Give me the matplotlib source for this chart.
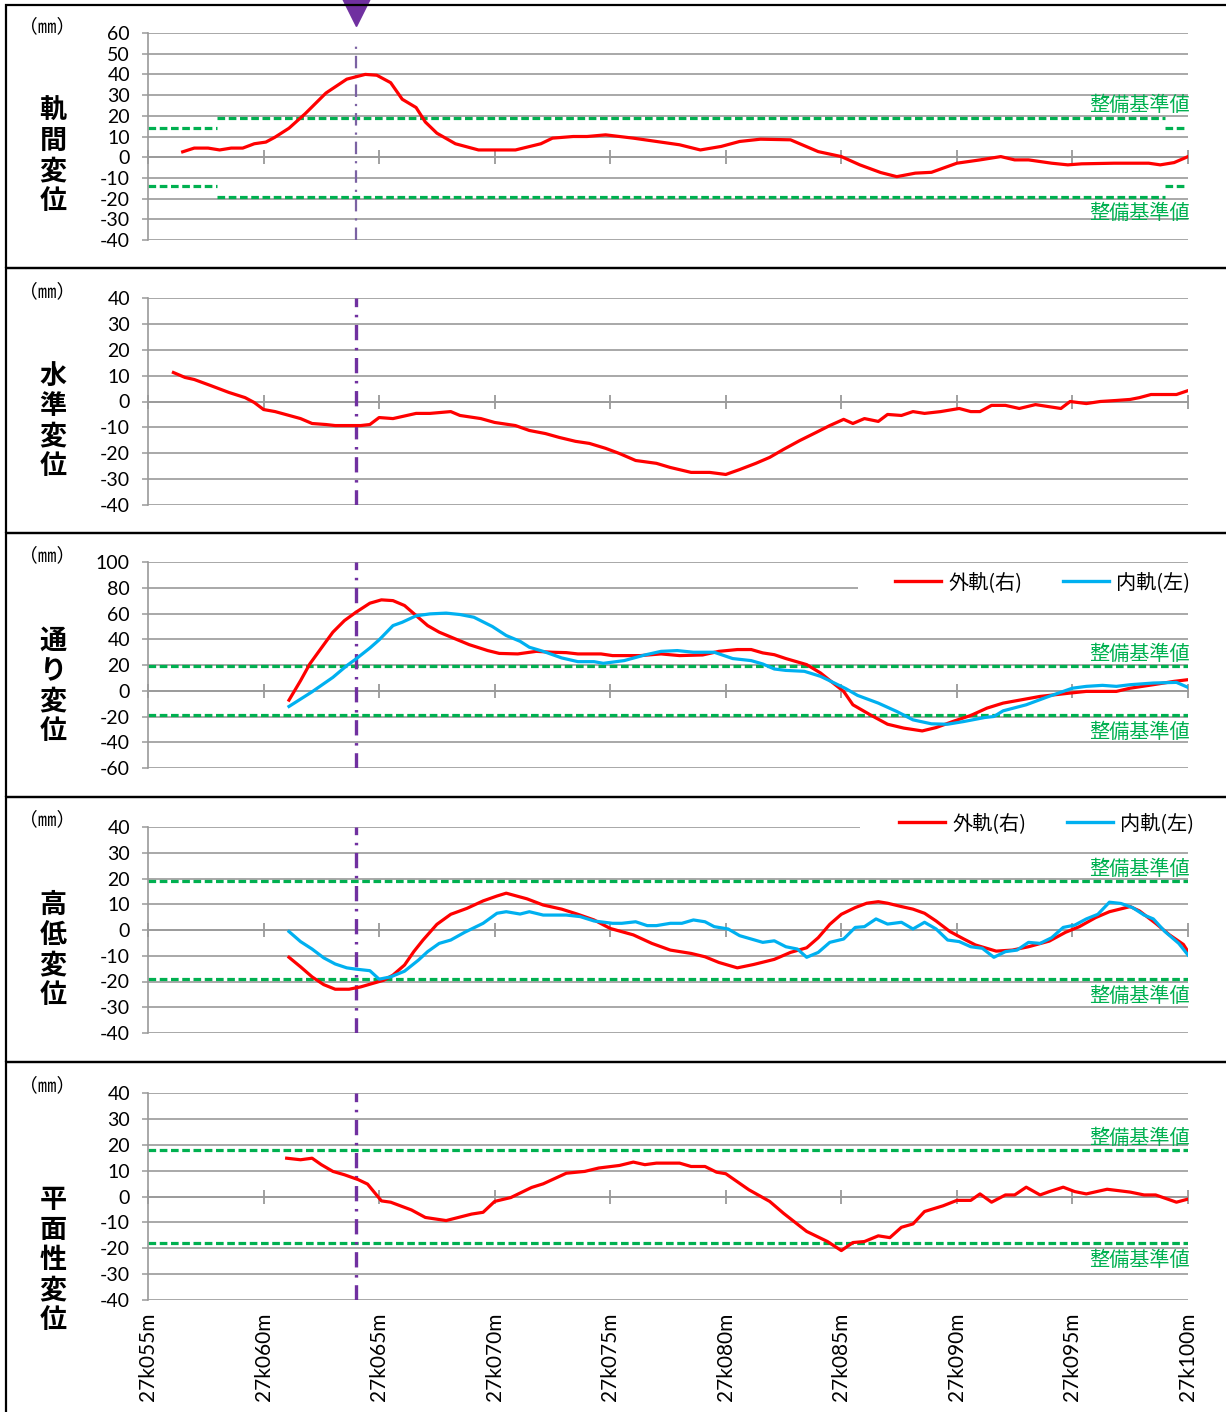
import matplotlib
matplotlib.use("Agg")
import matplotlib.pyplot as plt
from matplotlib.patches import Rectangle
from matplotlib.lines import Line2D

plt.rcParams['font.family'] = ['Noto Sans CJK JP', 'DejaVu Sans']
plt.rcParams['axes.unicode_minus'] = False
plt.rcParams['lines.scale_dashes'] = False

# ---- data (km offsets in m, values in mm) ----
X_TICKS = [55, 60, 65, 70, 75, 80, 85, 90, 95, 100]
X_LABELS = ["27k%03dm" % t for t in X_TICKS]
MARK_POS = 64.0   # 着目位置

# 軌間変位
GAUGE_KM = [56.5, 57.0, 57.6, 58.1, 58.6, 59.1, 59.6, 60.1, 60.5, 61.1, 61.8, 62.7,
            63.6, 64.4, 64.9, 65.5, 66.0, 66.6, 67.0, 67.5, 68.3, 69.3, 70.9, 72.0,
            72.5, 73.4, 74.0, 74.8, 76.0, 78.0, 78.9, 79.8, 80.6, 81.5, 82.8, 84.0,
            85.0, 85.8, 86.7, 87.4, 88.2, 88.9, 90.0, 91.0, 91.9, 92.5, 93.1, 94.1,
            94.8, 95.4, 96.8, 98.3, 98.8, 99.4, 100.0]
GAUGE_MM = [2.6, 4.4, 4.4, 3.5, 4.4, 4.4, 6.5, 7.3, 9.7, 14.0, 21.0, 31.0,
            37.7, 40.0, 39.6, 36.0, 28.0, 24.0, 17.0, 11.6, 6.5, 3.5, 3.5, 6.5,
            9.2, 10.0, 10.0, 10.8, 9.2, 6.0, 3.5, 5.2, 7.6, 8.7, 8.4, 2.7,
            0.3, -3.7, -7.4, -9.4, -7.7, -7.3, -2.9, -1.3, 0.3, -1.3, -1.3, -2.9,
            -3.7, -3.2, -2.9, -2.9, -3.7, -2.6, 0.3]

# 水準変位
LEVEL_KM = [56.1, 56.6, 57.0, 57.7, 58.5, 59.2, 59.6, 60.0, 60.5, 61.6, 62.1, 62.7,
            63.1, 64.2, 64.6, 65.0, 65.6, 66.6, 67.2, 68.1, 68.5, 69.4, 70.0, 70.9,
            71.5, 72.2, 72.8, 73.5, 74.1, 74.8, 75.4, 76.1, 77.0, 77.6, 78.5, 79.3,
            80.0, 80.6, 81.3, 81.9, 82.5, 83.2, 83.9, 84.5, 85.1, 85.5, 86.0, 86.6,
            87.0, 87.6, 88.1, 88.6, 89.3, 90.1, 90.6, 91.0, 91.5, 92.1, 92.7, 93.4,
            94.5, 94.9, 95.6, 96.2, 96.9, 97.5, 97.9, 98.4, 99.5, 100.0]
LEVEL_MM = [11.2, 9.3, 8.5, 6.2, 3.5, 1.5, -0.4, -3.1, -3.9, -6.6, -8.5, -8.9,
            -9.3, -9.3, -8.9, -6.2, -6.6, -4.6, -4.6, -3.9, -5.4, -6.6, -8.1, -9.3,
            -11.2, -12.4, -13.9, -15.4, -16.2, -18.1, -20.1, -22.8, -23.9, -25.5, -27.4, -27.4,
            -28.2, -26.3, -23.9, -21.6, -18.5, -15.1, -12.0, -9.3, -6.9, -8.5, -6.6, -7.7,
            -5.0, -5.4, -3.9, -4.6, -3.9, -2.7, -3.9, -3.9, -1.5, -1.5, -2.7, -1.2,
            -2.7, 0.0, -0.8, 0.0, 0.4, 0.8, 1.5, 2.7, 2.7, 4.2]

# 通り変位
ALIGN_OUT_KM = [61.1, 61.6, 62.0, 62.5, 63.0, 63.5, 64.0, 64.6, 65.1, 65.6, 66.1, 66.6,
                67.1, 67.6, 68.2, 68.9, 69.7, 70.2, 71.0, 71.8, 72.5, 73.1, 73.6, 74.6,
                75.1, 76.3, 77.2, 78.0, 79.0, 79.7, 80.5, 81.1, 81.6, 82.1, 82.6, 83.5,
                84.1, 84.7, 85.1, 85.5, 86.3, 87.0, 87.7, 88.5, 89.1, 89.9, 90.6, 91.3,
                92.0, 92.8, 93.6, 94.9, 95.6, 96.9, 97.5, 98.5, 99.4, 100.0]
ALIGN_OUT_MM = [-7.3, 7.8, 20.8, 33.2, 45.5, 54.5, 61.0, 68.0, 70.6, 70.0, 66.2, 58.4,
                50.6, 45.5, 41.0, 35.8, 31.2, 29.0, 28.6, 30.6, 29.9, 29.6, 28.6, 28.6,
                27.3, 27.3, 28.6, 27.3, 27.8, 30.6, 32.0, 32.0, 29.4, 28.0, 25.0, 20.3,
                13.8, 5.2, -0.5, -10.9, -19.2, -26.0, -29.0, -31.2, -28.6, -23.4, -19.2, -13.5,
                -9.6, -7.0, -4.4, -1.8, -0.5, -0.5, 2.0, 4.7, 7.3, 8.6]
ALIGN_IN_KM = [61.1, 61.6, 62.1, 63.0, 63.6, 64.0, 64.6, 65.0, 65.6, 66.0, 66.6, 67.2,
               67.9, 68.5, 69.1, 69.9, 70.5, 71.1, 71.5, 72.1, 72.9, 73.6, 74.3, 74.7,
               75.6, 76.5, 77.2, 77.9, 78.6, 79.5, 80.3, 81.1, 81.6, 82.1, 82.6, 83.4,
               84.1, 84.7, 85.2, 85.7, 86.6, 87.4, 88.1, 88.9, 89.6, 90.3, 91.2, 91.6,
               92.0, 93.0, 93.9, 95.0, 95.6, 96.3, 96.9, 97.5, 98.5, 99.5, 100.0]
ALIGN_IN_MM = [-12.2, -6.5, -0.8, 10.4, 19.5, 24.7, 33.2, 39.5, 50.6, 53.2, 58.2, 59.7,
               60.3, 59.2, 57.1, 49.9, 42.9, 38.4, 33.8, 30.6, 25.5, 22.6, 22.6, 21.3,
               23.4, 27.8, 30.6, 31.2, 29.9, 29.9, 25.0, 23.4, 20.8, 16.9, 15.8, 15.1,
               11.2, 6.0, 1.6, -3.6, -9.6, -16.1, -22.6, -25.7, -26.0, -23.9, -20.8, -20.0,
               -15.6, -10.9, -4.9, 2.0, 3.4, 4.2, 3.4, 4.7, 6.0, 6.5, 2.6]

# 高低変位
SURF_OUT_KM = [61.1, 61.6, 62.1, 62.6, 63.1, 63.7, 64.2, 64.7, 65.2, 65.6, 66.1, 66.5,
               66.9, 67.5, 68.1, 68.8, 69.5, 70.1, 70.5, 71.4, 72.1, 72.9, 73.6, 74.3,
               75.0, 76.0, 76.8, 77.6, 78.5, 79.1, 79.7, 80.5, 81.2, 82.1, 82.8, 83.5,
               84.0, 84.5, 85.0, 85.6, 86.1, 86.6, 87.0, 87.6, 88.1, 88.6, 89.1, 89.7,
               90.3, 90.8, 91.7, 92.4, 93.1, 94.0, 94.7, 95.3, 96.0, 96.6, 97.5, 97.9,
               98.6, 99.2, 99.8, 100.0]
SURF_OUT_MM = [-10.6, -14.3, -18.2, -21.2, -23.0, -23.0, -22.1, -20.8, -19.5, -17.5, -13.6, -8.4,
               -3.9, 2.2, 6.1, 8.4, 11.3, 13.2, 14.3, 12.1, 9.7, 8.1, 6.1, 3.9,
               0.6, -1.9, -5.2, -7.8, -9.1, -10.4, -12.6, -14.7, -13.4, -11.4, -8.7, -6.9,
               -3.0, 2.2, 6.1, 8.7, 10.4, 11.0, 10.4, 9.1, 8.1, 6.5, 3.5, -0.6,
               -3.5, -5.8, -8.2, -7.8, -6.5, -4.3, -0.9, 1.3, 4.8, 7.1, 9.1, 7.4,
               2.6, -1.9, -5.6, -8.4]
SURF_IN_KM = [61.1, 61.6, 62.1, 62.6, 63.1, 63.6, 64.0, 64.6, 65.0, 65.5, 66.1, 66.7,
              67.1, 67.6, 68.1, 68.7, 69.5, 70.1, 70.5, 71.1, 71.5, 72.1, 73.1, 73.7,
              74.3, 75.1, 75.5, 76.1, 76.6, 77.0, 77.6, 78.1, 78.6, 79.1, 79.5, 80.1,
              80.6, 81.1, 81.6, 82.1, 82.6, 83.1, 83.5, 84.0, 84.5, 85.1, 85.6, 86.0,
              86.5, 87.0, 87.6, 88.1, 88.6, 89.1, 89.6, 90.1, 90.6, 91.1, 91.6, 92.1,
              92.6, 93.1, 93.6, 94.1, 94.6, 95.1, 95.6, 96.1, 96.6, 97.1, 97.6, 98.1,
              98.5, 99.0, 99.6, 100.0]
SURF_IN_MM = [-0.6, -4.5, -7.4, -10.8, -13.2, -14.7, -15.2, -15.8, -19.1, -18.2, -16.0, -11.7,
              -8.4, -5.2, -3.9, -0.9, 2.6, 6.5, 7.1, 6.2, 7.1, 5.8, 5.8, 5.2,
              3.5, 2.6, 2.6, 3.2, 1.7, 1.7, 2.6, 2.6, 3.9, 3.2, 1.3, 0.4,
              -2.2, -3.5, -4.8, -4.2, -6.5, -7.4, -10.6, -8.7, -4.8, -3.5, 1.0, 1.3,
              4.3, 2.3, 3.0, 0.4, 3.0, 0.4, -3.9, -4.5, -6.5, -7.1, -10.6, -8.4,
              -7.8, -4.8, -5.2, -3.0, 1.0, 1.9, 4.3, 6.1, 10.8, 10.3, 8.7, 5.8,
              4.3, -0.6, -5.2, -9.7]

# 平面性変位
TWIST_KM = [61.0, 61.6, 62.1, 62.5, 63.0, 63.5, 64.1, 64.5, 65.1, 65.5, 66.4, 67.0,
            67.9, 69.0, 69.5, 70.0, 70.7, 71.6, 72.1, 73.1, 73.9, 74.5, 75.4, 76.0,
            76.5, 77.0, 78.0, 78.5, 79.1, 79.6, 80.0, 81.0, 81.9, 82.5, 83.5, 84.4,
            85.0, 85.5, 86.0, 86.6, 87.1, 87.6, 88.1, 88.6, 89.4, 90.0, 90.6, 91.0,
            91.5, 92.1, 92.5, 93.0, 93.6, 94.0, 94.6, 95.1, 95.6, 96.5, 97.5, 98.1,
            98.6, 99.5, 100.0]
TWIST_MM = [14.8, 14.2, 14.8, 12.3, 9.7, 8.4, 6.5, 4.8, -1.7, -2.2, -5.2, -8.1,
            -9.3, -6.8, -6.1, -1.9, -0.4, 3.5, 4.9, 9.0, 9.7, 11.0, 12.0, 13.3,
            12.3, 12.9, 12.9, 11.6, 11.6, 9.4, 8.8, 2.6, -1.9, -6.5, -13.5, -17.4,
            -20.9, -17.8, -17.4, -15.2, -15.9, -11.9, -10.6, -5.8, -3.6, -1.5, -1.5, 1.0,
            -2.2, 0.6, 0.6, 3.6, 0.6, 1.9, 3.6, 1.9, 1.0, 2.8, 1.7, 0.6,
            0.6, -2.2, -1.0]

# 整備基準値 (start, end, level)
LIMIT_GAUGE = [(55, 58, 14), (58, 99, 19), (99, 100, 14)]
LIMIT_ALIGN = [(55, 100, 19)]
LIMIT_SURF = [(55, 100, 19)]
LIMIT_TWIST = [(55, 100, 18)]

RED = '#FF0000'
BLUE = '#00B0F0'
GREEN = '#00B050'
PURPLE = '#7030A0'
GRID = '#9A9A9A'

W, H = 1226, 1412
fig = plt.figure(figsize=(W / 100, H / 100), dpi=100)


def fx(px):
    return px / W


def fy(py):
    return 1 - py / H


def make_axes(top, bottom, ylim, ystep):
    ax = fig.add_axes([fx(148), fy(bottom), 1040 / W, (bottom - top) / H])
    ax.set_xlim(55, 100)
    ax.set_ylim(*ylim)
    yt = list(range(ylim[0], ylim[1] + 1, ystep))
    ax.set_yticks(yt, [str(v) for v in yt])
    ax.set_axisbelow(True)
    ax.grid(axis='y', color=GRID, lw=1.2)
    for s in ['top', 'right']:
        ax.spines[s].set_visible(False)
    ax.spines['left'].set_color(GRID)
    ax.spines['left'].set_linewidth(1.2)
    ax.spines['bottom'].set_position(('data', 0))
    ax.spines['bottom'].set_color(GRID)
    ax.spines['bottom'].set_linewidth(1.2)
    ax.set_xticks(X_TICKS)
    ax.tick_params(axis='x', labelbottom=False, direction='inout', length=10,
                   width=1.1, color='#888888')
    ax.tick_params(axis='y', direction='out', length=4, width=1.1, color=GRID,
                   labelsize=14, pad=9, labelfontfamily='Lato')
    return ax


def limits(ax, segs, y_up=1, y_dn=-5):
    for x0, x1, lv in segs:
        for v in (lv, -lv):
            ax.plot([x0, x1], [v, v], color=GREEN, lw=2.3, ls=(0, (5.5, 2.6)))
    top = max(s[2] for s in segs)
    ax.annotate('整備基準値', (100, top), xytext=(1, y_up), textcoords='offset points',
                ha='right', va='bottom', color=GREEN, fontsize=14.5)
    ax.annotate('整備基準値', (100, -top), xytext=(1, y_dn), textcoords='offset points',
                ha='right', va='top', color=GREEN, fontsize=14.5)


def mark_line(ax, thin=False):
    if thin:
        ax.axvline(MARK_POS, ymin=0, ymax=0.955, color='#7B62A3', lw=1.6,
                   ls=(0, (9, 5, 1.6, 5)), zorder=3)
    else:
        ax.axvline(MARK_POS, color=PURPLE, lw=2.4, ls=(0, (11, 5.5, 1.8, 5.5)), zorder=3)


def side_label(text, y_first):
    for i, ch in enumerate(text):
        fig.text(fx(53), fy(y_first + i * 30), ch, ha='center', va='center',
                 fontsize=19.5, fontweight='bold')


def legend(ax, x_right, y_mid, cover):
    h = [Line2D([], [], color=RED, lw=2.4), Line2D([], [], color=BLUE, lw=2.4)]
    ax.add_patch(Rectangle((cover[0], cover[1]), 0.4, cover[2], transform=ax.transAxes,
                           facecolor='white', edgecolor='none', zorder=1, clip_on=False))
    ax.legend(h, ['外軌(右)', '内軌(左)'], ncol=2, loc='center right',
              bbox_to_anchor=(fx(x_right), fy(y_mid)), bbox_transform=fig.transFigure,
              frameon=False, fontsize=14.5, handlelength=2.3, handletextpad=0.35,
              columnspacing=2.0, borderaxespad=0, borderpad=0)


# panel frames
for top, bot in [(5, 268), (268, 533), (533, 797), (797, 1062), (1062, 1420)]:
    fig.add_artist(Rectangle((fx(6), fy(bot)), fx(1240), (bot - top) / H, fill=False,
                             edgecolor='black', lw=1.6, transform=fig.transFigure))

# 軌間変位
ax1 = make_axes(33, 240, (-40, 60), 10)
limits(ax1, LIMIT_GAUGE)
ax1.plot(GAUGE_KM, GAUGE_MM, color=RED, lw=2.3, zorder=4)
mark_line(ax1, thin=True)
ax1.plot([MARK_POS], [70.6], marker='v', ms=22, color=PURPLE, clip_on=False, zorder=5)

# 水準変位
ax2 = make_axes(298, 505, (-40, 40), 10)
ax2.plot(LEVEL_KM, LEVEL_MM, color=RED, lw=2.3, zorder=4)
mark_line(ax2)

# 通り変位
ax3 = make_axes(562, 768, (-60, 100), 20)
limits(ax3, LIMIT_ALIGN)
ax3.plot(ALIGN_OUT_KM, ALIGN_OUT_MM, color=RED, lw=2.3, zorder=4)
ax3.plot(ALIGN_IN_KM, ALIGN_IN_MM, color=BLUE, lw=2.3, zorder=4)
mark_line(ax3)
legend(ax3, 1190, 583, (0.683, 0.84, 0.13))

# 高低変位
ax4 = make_axes(827, 1033, (-40, 40), 10)
limits(ax4, LIMIT_SURF)
ax4.plot(SURF_OUT_KM, SURF_OUT_MM, color=RED, lw=2.3, zorder=4)
ax4.plot(SURF_IN_KM, SURF_IN_MM, color=BLUE, lw=2.3, zorder=4)
mark_line(ax4)
legend(ax4, 1194, 824, (0.685, 0.95, 0.08))

# 平面性変位
ax5 = make_axes(1093, 1300, (-40, 40), 10)
limits(ax5, LIMIT_TWIST)
ax5.plot(TWIST_KM, TWIST_MM, color=RED, lw=2.3, zorder=4)
mark_line(ax5)
sec = ax5.secondary_xaxis('bottom')
sec.set_xticks(X_TICKS, X_LABELS)
sec.tick_params(length=0, pad=9, labelrotation=90, labelsize=15, labelfontfamily='Lato')
sec.spines['bottom'].set_visible(False)

# left labels
for y0 in [27, 292, 556, 820, 1086]:
    fig.text(fx(47), fy(y0), '（㎜）', ha='center', va='center', fontsize=13.5)
side_label('軌間変位', 111)
side_label('水準変位', 376)
side_label('通り変位', 641)
side_label('高低変位', 905)
side_label('平面性変位', 1200)

fig.savefig('out.png', dpi=100)
